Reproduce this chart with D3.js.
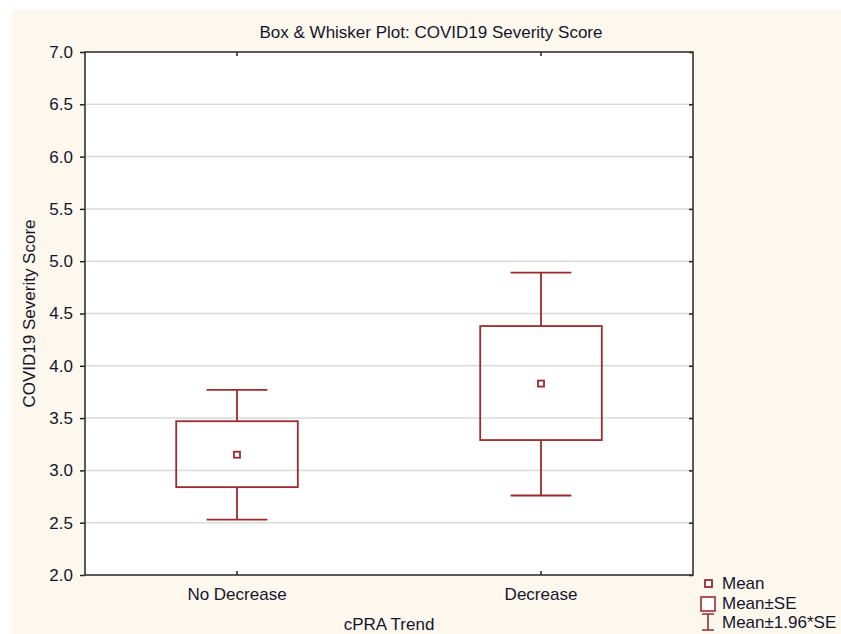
<!DOCTYPE html>
<html><head><meta charset="utf-8">
<script src="https://cdn.jsdelivr.net/npm/d3@7"></script>
<style>body{margin:0;background:#fff}svg{display:block}text{font-family:"Liberation Sans",Arial,sans-serif;fill:#15152a}</style>
</head><body><svg id="c" width="841" height="634"></svg>
<script>
const categories = ["No Decrease", "Decrease"];
const means = [3.15, 3.83];
const seLow = [2.84, 3.29];
const seHigh = [3.47, 4.38];
const ciLow = [2.53, 2.76];
const ciHigh = [3.77, 4.89];
const yTicks = [2.0, 2.5, 3.0, 3.5, 4.0, 4.5, 5.0, 5.5, 6.0, 6.5, 7.0];
const legendItems = ["Mean", "Mean\u00b1SE", "Mean\u00b11.96*SE"];

const svg = d3.select("#c");
const col = "#9c2a2e";
const m = {l: 85, r: 693, t: 52, b: 575};
svg.append("rect").attr("x", 12).attr("y", 10).attr("width", 829).attr("height", 624).attr("fill", "#fdf8ee");
svg.append("rect").attr("x", m.l).attr("y", m.t).attr("width", m.r - m.l).attr("height", m.b - m.t).attr("fill", "#fff");

const x = d3.scaleBand().domain(categories).range([m.l, m.r]);
const y = d3.scaleLinear().domain([2, 7]).range([m.b, m.t]);

// grid
svg.append("g").selectAll("line").data(yTicks.slice(1, -1)).join("line")
  .attr("x1", m.l).attr("x2", m.r).attr("y1", d => y(d)).attr("y2", d => y(d))
  .attr("stroke", "#dadada").attr("stroke-width", 1.5);

// axes
const fmt = d3.format(".1f");
const la = svg.append("g").attr("transform", `translate(${m.l},0)`)
  .call(d3.axisLeft(y).tickValues(yTicks).tickFormat(fmt).tickSize(5).tickPadding(7));
const ra = svg.append("g").attr("transform", `translate(${m.r},0)`)
  .call(d3.axisLeft(y).tickValues(yTicks).tickFormat("").tickSize(4));
const ba = svg.append("g").attr("transform", `translate(0,${m.b})`)
  .call(d3.axisTop(x).tickSize(4).tickFormat(""));
const ta = svg.append("g").attr("transform", `translate(0,${m.t})`)
  .call(d3.axisBottom(x).tickSize(4).tickFormat(""));
[la, ra, ba, ta].forEach(g => {
  g.select(".domain").remove();
  g.selectAll("line").attr("stroke", "#222").attr("stroke-width", 1.5);
});
la.selectAll("text").style("font-size", "17px").attr("fill", "#15152a").attr("font-family", "Liberation Sans, Arial");
svg.append("rect").attr("x", m.l).attr("y", m.t).attr("width", m.r - m.l).attr("height", m.b - m.t)
  .attr("fill", "none").attr("stroke", "#333").attr("stroke-width", 1.6);

// x labels
svg.append("g").selectAll("text").data(categories).join("text")
  .attr("x", d => x(d) + x.bandwidth() / 2).attr("y", 600).attr("text-anchor", "middle")
  .style("font-size", "17px").text(d => d);

// boxes
const bw = x.bandwidth() * 0.4, cw = x.bandwidth() * 0.2;
const g = svg.append("g").attr("stroke", col).attr("stroke-width", 1.8).attr("fill", "none");
categories.forEach((c, i) => {
  const cx = x(c) + x.bandwidth() / 2;
  g.append("line").attr("x1", cx).attr("x2", cx).attr("y1", y(ciHigh[i])).attr("y2", y(seHigh[i]));
  g.append("line").attr("x1", cx).attr("x2", cx).attr("y1", y(seLow[i])).attr("y2", y(ciLow[i]));
  g.append("line").attr("x1", cx - cw / 2).attr("x2", cx + cw / 2).attr("y1", y(ciHigh[i])).attr("y2", y(ciHigh[i]));
  g.append("line").attr("x1", cx - cw / 2).attr("x2", cx + cw / 2).attr("y1", y(ciLow[i])).attr("y2", y(ciLow[i]));
  g.append("rect").attr("x", cx - bw / 2).attr("width", bw).attr("y", y(seHigh[i])).attr("height", y(seLow[i]) - y(seHigh[i]));
  g.append("rect").attr("x", cx - 3).attr("width", 6).attr("y", y(means[i]) - 3).attr("height", 6).attr("fill", "#fff");
});

// titles
svg.append("text").attr("x", 431).attr("y", 38).attr("text-anchor", "middle").style("font-size", "17px")
  .text("Box & Whisker Plot: COVID19 Severity Score");
svg.append("text").attr("x", (m.l + m.r) / 2).attr("y", 630).attr("text-anchor", "middle").style("font-size", "17px")
  .text("cPRA Trend");
svg.append("text").attr("transform", `translate(35,${(m.t + m.b) / 2}) rotate(-90)`).attr("text-anchor", "middle")
  .style("font-size", "17px").text("COVID19 Severity Score");

// legend
const lg = svg.append("g");
const ly = [583, 603, 622];
lg.append("rect").attr("x", 705).attr("y", ly[0] - 3).attr("width", 7).attr("height", 7)
  .attr("fill", "#fff").attr("stroke", col).attr("stroke-width", 1.8);
lg.append("rect").attr("x", 701).attr("y", 597).attr("width", 14).attr("height", 14)
  .attr("fill", "#fff").attr("stroke", col).attr("stroke-width", 1.6);
lg.append("path").attr("d", "M702,614H714M708,614V630M702,630H714").attr("stroke", col).attr("stroke-width", 1.6).attr("fill", "none");
lg.selectAll("text").data(legendItems).join("text")
  .attr("x", 722).attr("y", (d, i) => ly[i] + 6).style("font-size", "17px").text(d => d);
</script></body></html>
